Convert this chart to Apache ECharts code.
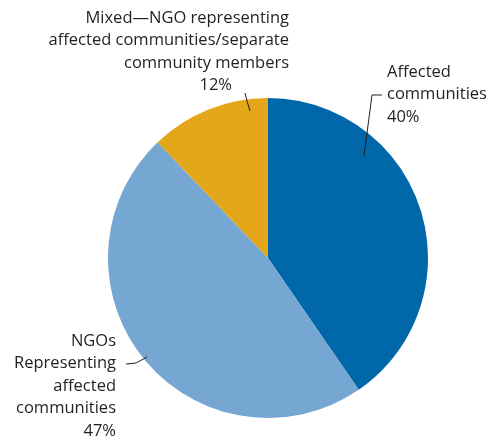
<!DOCTYPE html>
<html><head><meta charset="utf-8">
<script src="https://cdn.jsdelivr.net/npm/echarts@6/dist/echarts.min.js"></script>
<style>html,body{margin:0;padding:0;background:#fff}#c{width:489px;height:440px}</style>
</head><body><div id="c"></div>
<script>
const categories = ['Affected communities', 'NGOs Representing affected communities', 'Mixed—NGO representing affected communities/separate community members'];
const values = [40, 47, 12];
const colors = ['#0068a9', '#76a6d2', '#e4a71a'];

const chart = echarts.init(document.getElementById('c'));
const FONT = '"Open Sans", "Noto Sans", sans-serif';
const FS = 16.5;
const labelDefs = [
  { text: '{a|Affected}\n{a|communities}\n{a|' + values[0] + '%}', x: 387, y: 61, align: 'left',
    pts: [[364, 156], [372, 95], [382, 95]] },
  { text: '{a|NGOs}\n{a|Representing}\n{a|affected}\n{a|communities}\n{a|' + values[1] + '%}', x: 116, y: 330, align: 'right',
    pts: [[147, 357], [136, 363], [126, 364]] },
  { text: '{a|Mixed—NGO representing}\n{a|affected communities/separate}\n{a|community members}\n{p|' + values[2] + '%}', x: 289, y: 7, align: 'right',
    pts: [[250, 111], [247, 101], [245, 93]] }
];

const pieData = categories.map((c, i) => ({ name: c, value: values[i], itemStyle: { color: colors[i] } }));

chart.setOption({
  animation: false,
  series: [{
    type: 'pie',
    center: [268, 258],
    radius: 160,
    startAngle: 90,
    clockwise: true,
    silent: true,
    z: 1,
    data: pieData,
    label: { show: false },
    labelLine: { show: false }
  }, {
    type: 'pie',
    center: [268, 258],
    radius: 160,
    startAngle: 90,
    clockwise: true,
    silent: true,
    z: 5,
    data: categories.map((c, i) => ({ name: c, value: values[i] })),
    itemStyle: { color: 'rgba(0,0,0,0)' },
    label: {
      show: true,
      position: 'outside',
      overflow: 'none',
      formatter: p => labelDefs[p.dataIndex].text,
      color: '#231f20',
      fontFamily: FONT,
      fontSize: FS,
      lineHeight: 22.5,
      rich: {
        a: { fontFamily: FONT, fontSize: FS, lineHeight: 22.5, color: '#231f20' },
        p: { fontFamily: FONT, fontSize: FS, lineHeight: 22.5, color: '#231f20', padding: [0, 57, 0, 0] }
      }
    },
    labelLine: { show: true, lineStyle: { color: '#231f20', width: 1 } },
    labelLayout: p => {
      const d = labelDefs[p.dataIndex];
      return { x: d.x, y: d.y, align: d.align, verticalAlign: 'top', labelLinePoints: d.pts };
    }
  }]
});
</script></body></html>
